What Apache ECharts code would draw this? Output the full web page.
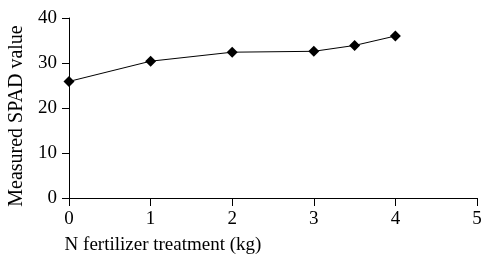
<!DOCTYPE html>
<html>
<head>
<meta charset="utf-8">
<script src="https://cdn.jsdelivr.net/npm/echarts@6/dist/echarts.min.js"></script>
<style>
  html, body { margin: 0; padding: 0; background: #fff; }
  #chart { width: 485px; height: 258px; }
</style>
</head>
<body>
<div id="chart"></div>
<script>
const nTreatment = [0, 1, 2, 3, 3.5, 4];
const spadValues = [25.9, 30.4, 32.4, 32.6, 33.9, 36.0];

function setChart() {
    const chart = echarts.init(document.getElementById('chart'));
    const font = '"Liberation Serif", "DejaVu Serif", serif';
    const axisLine = { show: true, lineStyle: { color: '#000', width: 1 } };

    chart.setOption({
        animation: false,
        grid: { left: 69, right: 8, top: 18, bottom: 60, containLabel: false, outerBoundsMode: 'none' },
        xAxis: {
            type: 'value',
            min: 0,
            max: 5,
            interval: 1,
            name: 'N fertilizer treatment (kg)',
            nameLocation: 'middle',
            nameGap: 38,
            nameTextStyle: { fontFamily: font, fontSize: 19, color: '#000', padding: [0, 220, 0, 0] },
            axisLine: axisLine,
            axisTick: { show: true, length: 8, lineStyle: { color: '#000' } },
            axisLabel: { fontFamily: font, fontSize: 19, color: '#000', margin: 12 },
            splitLine: { show: false }
        },
        yAxis: {
            type: 'value',
            min: 0,
            max: 40,
            interval: 10,
            name: 'Measured SPAD value',
            nameLocation: 'middle',
            nameGap: 34,
            nameTextStyle: { fontFamily: font, fontSize: 20, color: '#000', padding: [0, 16, 0, 0] },
            axisLine: axisLine,
            axisTick: { show: true, length: 7, lineStyle: { color: '#000' } },
            axisLabel: { fontFamily: font, fontSize: 19, color: '#000', margin: 12 },
            splitLine: { show: false }
        },
        series: [{
            type: 'line',
            data: nTreatment.map((x, i) => [x, spadValues[i]]),
            symbol: 'diamond',
            symbolSize: 11,
            itemStyle: { color: '#000' },
            lineStyle: { color: '#000', width: 1 }
        }]
    });
}

window.addEventListener('DOMContentLoaded', setChart);
</script>
</body>
</html>
